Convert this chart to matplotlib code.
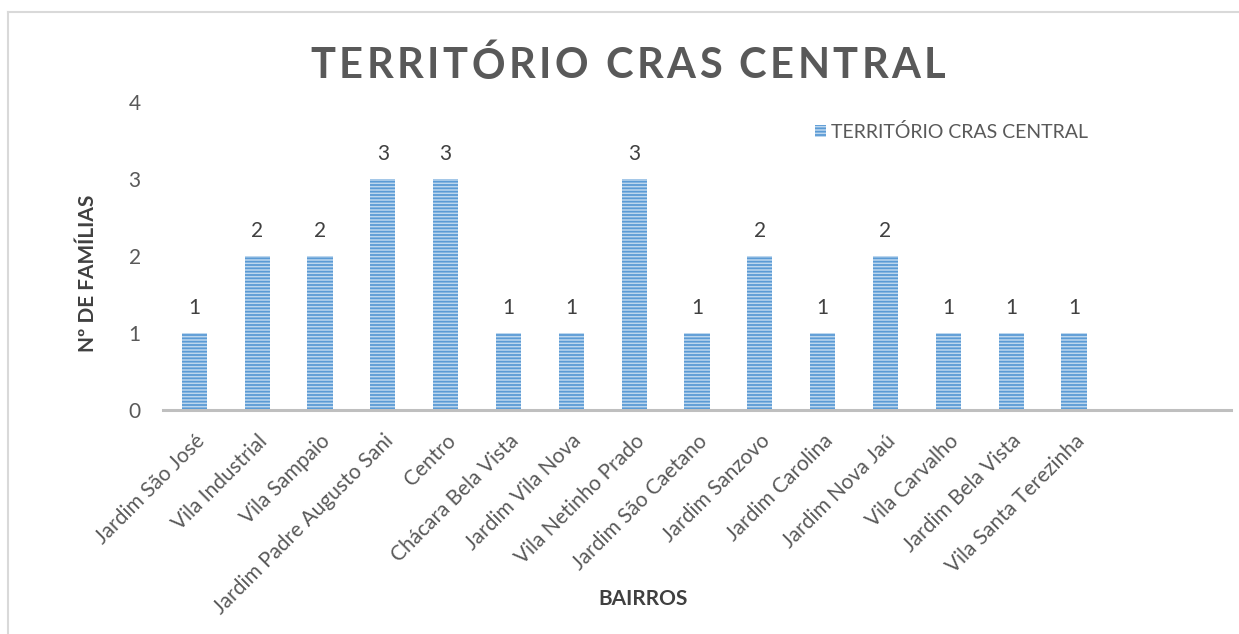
import matplotlib
matplotlib.use("Agg")
import matplotlib.pyplot as plt
from matplotlib.lines import Line2D
from matplotlib.patches import Patch
from matplotlib.font_manager import FontProperties

categories = ["Jardim São José", "Vila Industrial", "Vila Sampaio",
              "Jardim Padre Augusto Sani", "Centro", "Chácara Bela Vista",
              "Jardim Vila Nova", "Vila Netinho Prado", "Jardim São Caetano",
              "Jardim Sanzovo", "Jardim Carolina", "Jardim Nova Jaú",
              "Vila Carvalho", "Jardim Bela Vista", "Vila Santa Terezinha",
              "", ""]
values = [1, 2, 2, 3, 3, 1, 1, 3, 1, 2, 1, 2, 1, 1, 1]
yticks = [0, 1, 2, 3, 4]
series_name = "TERRITÓRIO CRAS CENTRAL"
title = "TERRITÓRIO CRAS CENTRAL"

FONT = ['Lato', 'DejaVu Sans']
plt.rcParams['font.family'] = FONT
plt.rcParams['hatch.linewidth'] = 1.3

W, H = 1239, 634
fig = plt.figure(figsize=(W / 100, H / 100), dpi=100)

def fx(px):
    return px / W

def fy(py):
    return 1 - py / H

ax = fig.add_axes([fx(163), fy(410), fx(1231) - fx(163), fy(102) - fy(410)])

x = list(range(len(values)))
bars = ax.bar(x, values, width=0.4, color="#BDD7EE", edgecolor="#5B9BD5",
              linewidth=0, hatch="-----", zorder=2)

for xi, v in zip(x, values):
    ax.text(xi, v + 0.2, str(v), ha="center", va="bottom", fontsize=15,
            color="#404040")

ax.set_xlim(-0.5, len(categories) - 0.5)
ax.set_ylim(0, 4)
ax.set_yticks(yticks)
ax.set_yticklabels([str(t) for t in yticks], fontsize=15, color="#595959")
ax.set_xticks(range(len(categories)))
ax.set_xticklabels(categories, rotation=45, ha="right", rotation_mode="anchor",
                   fontsize=15, color="#595959")
ax.tick_params(axis="both", length=0)
ax.tick_params(axis="y", pad=16)
ax.tick_params(axis="x", pad=15)
for s in ["top", "right", "left"]:
    ax.spines[s].set_visible(False)
ax.spines["bottom"].set_color("#BFBFBF")
ax.spines["bottom"].set_linewidth(2.2)
ax.spines["bottom"].set_zorder(3)

# Title with letter spacing
renderer = fig.canvas.get_renderer()
tprop = FontProperties(family=FONT, size=30, weight="bold")

def text_w(s):
    w, h, d = renderer.get_text_width_height_descent(s, tprop, ismath=False)
    return w

space_w = text_w("a a") - text_w("aa")
widths = [space_w if c == " " else text_w(c) for c in title]
target_w = 635
gap = (target_w - sum(widths)) / (len(title) - 1)
cur = 628 - target_w / 2
for c, w in zip(title, widths):
    if c != " ":
        fig.text(fx(cur), fy(63), c, ha="left", va="center_baseline",
                 fontproperties=tprop, color="#595959")
    cur += w + gap

fig.text(fx(88), fy(273), "Nº DE FAMÍLIAS", rotation=90, ha="center",
         va="center", fontsize=15, fontweight="bold", color="#404040")
fig.text(fx(643), fy(599), "BAIRROS", ha="center", va="center", fontsize=15,
         fontweight="bold", color="#404040")

handle = Patch(facecolor="#BDD7EE", edgecolor="#5B9BD5", linewidth=0,
               hatch="-----")
fig.legend([handle], [series_name], loc="center left",
           bbox_to_anchor=(fx(797), fy(132)), frameon=False, fontsize=14,
           handlelength=0.6, handleheight=0.6, handletextpad=0.25,
           labelcolor="#595959")

fig.add_artist(Line2D([fx(8), fx(8)], [fy(12), 0], color="#D9D9D9", lw=1.5,
                      transform=fig.transFigure))
fig.add_artist(Line2D([fx(8), 1], [fy(12), fy(12)], color="#D9D9D9", lw=1.5,
                      transform=fig.transFigure))

fig.savefig("out.png", dpi=100, facecolor="white")
